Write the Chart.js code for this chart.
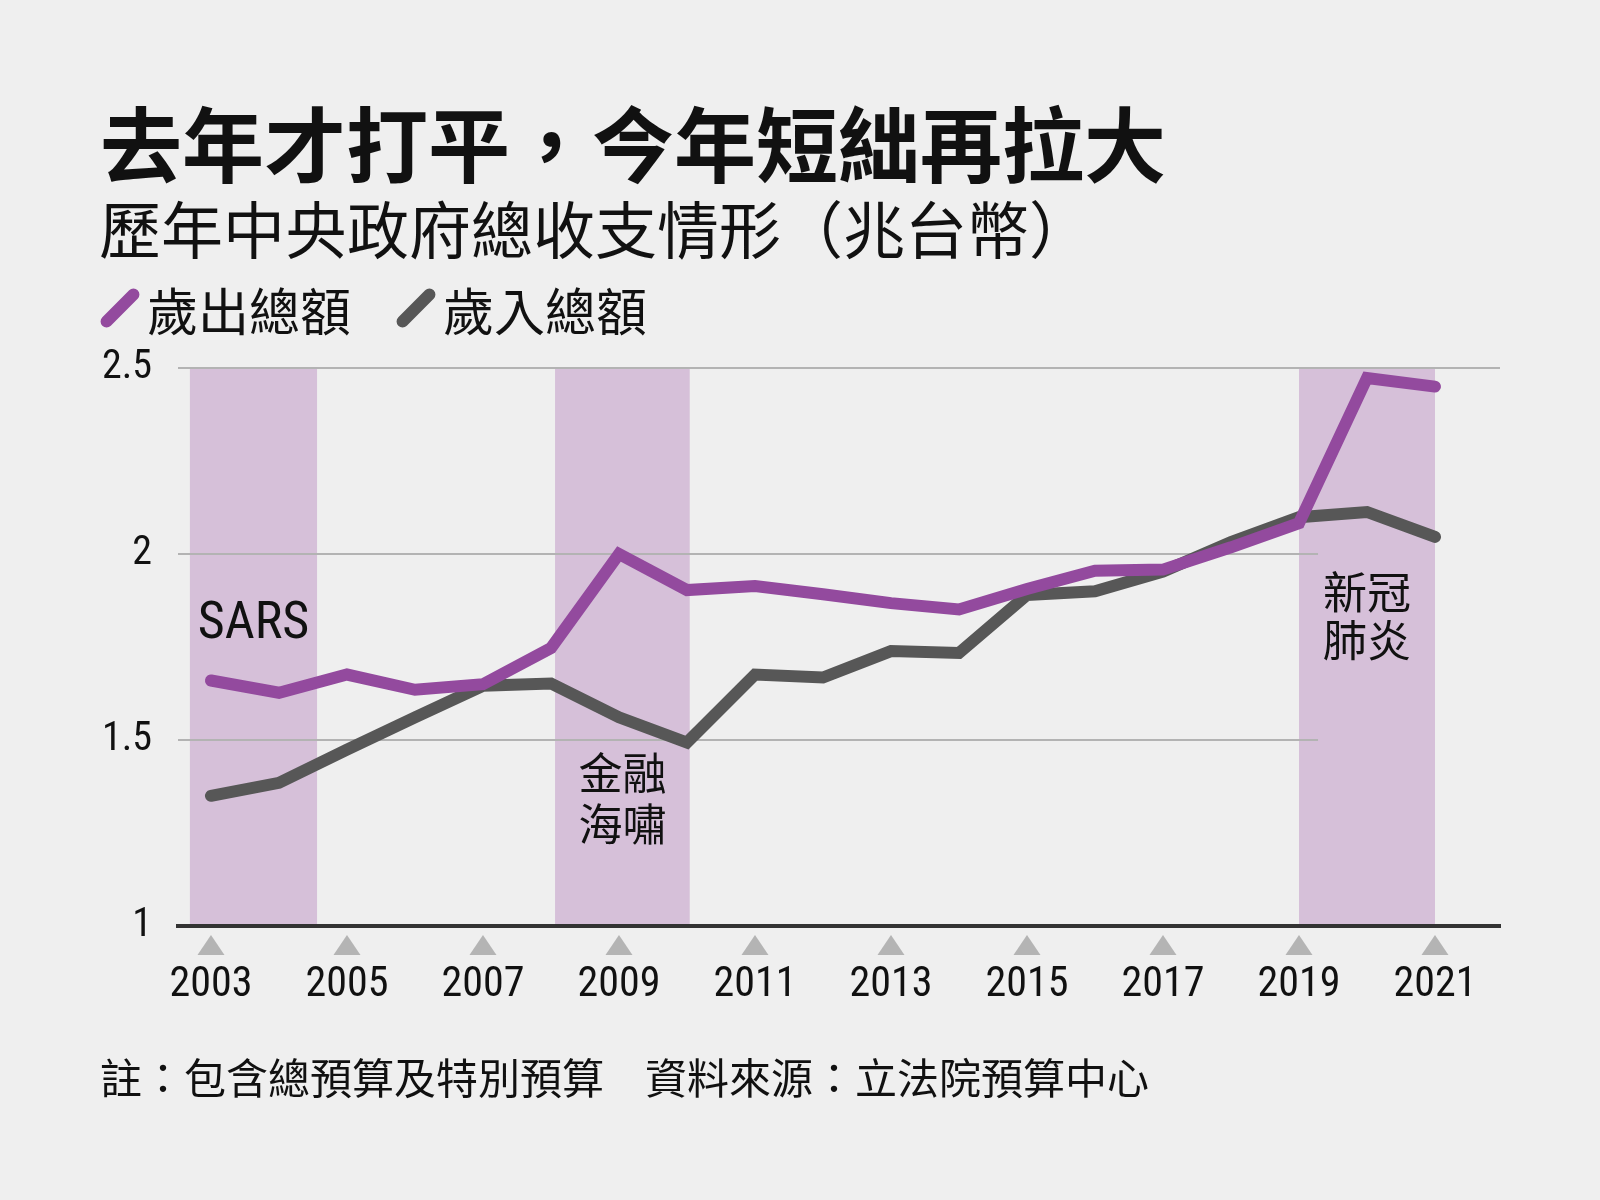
<!DOCTYPE html>
<html lang="zh-Hant">
<head>
<meta charset="utf-8">
<script src="https://cdn.jsdelivr.net/npm/chart.js@4"></script>
<style>
  html, body { margin: 0; padding: 0; background: #efefef; }
  #page { position: relative; width: 1600px; height: 1200px; background: #efefef; overflow: hidden;
          font-family: "Noto Sans CJK TC", "Noto Sans", sans-serif; color: #111; }
  #grafico { position: absolute; left: 0; top: 0; }
  .txt { position: absolute; white-space: nowrap; line-height: 1; }
  #titulo { left: 100px; top: 100px; font-size: 82px; font-weight: 700; }
  #subtitulo { left: 99px; top: 196px; font-size: 62px; font-weight: 400; }
  .chave { position: absolute; width: 50px; height: 12px; border-radius: 6px; transform: rotate(-45deg); }
  #legenda1 { left: 147px; top: 284px; font-size: 51px; }
  #legenda2 { left: 443px; top: 284px; font-size: 51px; }
  #nota1 { left: 100px; top: 1055px; font-size: 42px; }
  #nota2 { left: 645px; top: 1055px; font-size: 42px; }
</style>
</head>
<body>
<div id="page">
  <canvas id="grafico" width="1600" height="1200"></canvas>
  <div class="txt" id="titulo">去年才打平，今年短絀再拉大</div>
  <div class="txt" id="subtitulo">歷年中央政府總收支情形（兆台幣）</div>
  <span class="chave" style="left:95px;top:302px;background:#934a9e"></span>
  <div class="txt" id="legenda1">歲出總額</div>
  <span class="chave" style="left:391px;top:302px;background:#575757"></span>
  <div class="txt" id="legenda2">歲入總額</div>
  <div class="txt" id="nota1">註：包含總預算及特別預算</div>
  <div class="txt" id="nota2">資料來源：立法院預算中心</div>
</div>
<script>
// dados (兆台幣)
const anos = [2003, 2004, 2005, 2006, 2007, 2008, 2009, 2010, 2011, 2012,
              2013, 2014, 2015, 2016, 2017, 2018, 2019, 2020, 2021];
const despesas = [1.66, 1.627, 1.676, 1.635, 1.65, 1.747, 2.0, 1.903, 1.914, 1.892,
                  1.868, 1.851, 1.906, 1.955, 1.958, 2.018, 2.083, 2.473, 2.45];
const receitas = [1.35, 1.385, 1.474, 1.561, 1.646, 1.652, 1.561, 1.493, 1.676, 1.668,
                  1.739, 1.734, 1.89, 1.90, 1.953, 2.032, 2.099, 2.113, 2.046];
const anosMarcados = [2003, 2005, 2007, 2009, 2011, 2013, 2015, 2017, 2019, 2021];
const valoresY = [1, 1.5, 2, 2.5];

// períodos de crise sombreados
const crisesInicio = [2002.69, 2008.06, 2019];
const crisesFim = [2004.56, 2010.04, 2021];
const crisesNome = [['SARS'], ['金融', '海嘯'], ['新冠', '肺炎']];

const COR_ROXA = '#934a9e';
const COR_CINZA = '#575757';
const fonteNumeros = '"Liberation Sans Narrow", "Roboto Condensed", "DejaVu Sans Condensed", Roboto, sans-serif';

// faixas roxas atrás de tudo
const pluginFaixas = {
  id: 'faixas',
  beforeDraw(chart) {
    const { ctx, chartArea, scales } = chart;
    ctx.save();
    ctx.fillStyle = '#d6c0d9';
    crisesInicio.forEach((ini, i) => {
      const x0 = scales.x.getPixelForValue(ini);
      const x1 = scales.x.getPixelForValue(crisesFim[i]);
      ctx.fillRect(x0, chartArea.top, x1 - x0, chartArea.bottom - chartArea.top);
    });
    ctx.restore();
  }
};

// linhas de grade (as de 1.5 e 2 param dentro da faixa da covid)
const pluginGrade = {
  id: 'grade',
  beforeDatasetsDraw(chart) {
    const { ctx, chartArea, scales } = chart;
    ctx.save();
    ctx.strokeStyle = '#b3b3b3';
    ctx.lineWidth = 2;
    valoresY.forEach(v => {
      if (v === scales.y.min) return;
      const y = scales.y.getPixelForValue(v);
      const fim = v === scales.y.max ? chartArea.right : scales.x.getPixelForValue(2019.28);
      ctx.beginPath();
      ctx.moveTo(chartArea.left, y);
      ctx.lineTo(fim, y);
      ctx.stroke();
    });
    ctx.restore();
  }
};

// triângulos cinza embaixo do eixo e nomes das crises
const pluginMarcas = {
  id: 'marcas',
  afterDraw(chart) {
    const { ctx, chartArea, scales } = chart;
    ctx.save();
    ctx.fillStyle = '#b4b4b4';
    scales.x.ticks.forEach(t => {
      const x = scales.x.getPixelForValue(t.value);
      ctx.beginPath();
      ctx.moveTo(x, chartArea.bottom + 9);
      ctx.lineTo(x + 13.5, chartArea.bottom + 29);
      ctx.lineTo(x - 13.5, chartArea.bottom + 29);
      ctx.closePath();
      ctx.fill();
    });

    const alturas = [1.81, 1.411, 1.898];
    const fontes = ['52px ' + fonteNumeros, '44px "Noto Sans CJK TC"', '44px "Noto Sans CJK TC"'];
    const passo = [0, 51, 48];
    ctx.fillStyle = '#111';
    ctx.textAlign = 'center';
    ctx.textBaseline = 'middle';
    crisesNome.forEach((linhas, i) => {
      const xc = (scales.x.getPixelForValue(crisesInicio[i]) + scales.x.getPixelForValue(crisesFim[i])) / 2;
      const y0 = scales.y.getPixelForValue(alturas[i]);
      ctx.font = fontes[i];
      linhas.forEach((l, j) => ctx.fillText(l, xc, y0 + j * passo[i]));
    });
    ctx.restore();
  }
};

const ctx = document.getElementById('grafico').getContext('2d');

window.grafico = new Chart(ctx, {
  type: 'line',
  data: {
    datasets: [
      {
        label: '歲出總額',
        data: anos.map((a, i) => ({ x: a, y: despesas[i] })),
        borderColor: COR_ROXA,
        borderWidth: 12,
        borderCapStyle: 'round',
        borderJoinStyle: 'miter',
        pointRadius: 0,
        tension: 0,
        order: 0
      },
      {
        label: '歲入總額',
        data: anos.map((a, i) => ({ x: a, y: receitas[i] })),
        borderColor: COR_CINZA,
        borderWidth: 12,
        borderCapStyle: 'round',
        borderJoinStyle: 'miter',
        pointRadius: 0,
        tension: 0,
        order: 1
      }
    ]
  },
  options: {
    responsive: false,
    animation: false,
    layout: { padding: { left: 98, right: 100, top: 368, bottom: 164 } },
    plugins: {
      legend: { display: false },
      tooltip: { enabled: false }
    },
    scales: {
      x: {
        type: 'linear',
        min: 2002.515,
        max: 2021.956,
        afterBuildTicks: s => { s.ticks = anosMarcados.map(v => ({ value: v })); },
        afterFit: s => { s.height = 110; },
        ticks: {
          callback: v => String(v),
          autoSkip: false,
          maxRotation: 0,
          padding: 34,
          color: '#111',
          font: { family: fonteNumeros, size: 42 }
        },
        grid: { display: false, drawTicks: false },
        border: { display: true, color: '#333', width: 4 }
      },
      y: {
        min: 1,
        max: 2.5,
        afterBuildTicks: s => { s.ticks = valoresY.map(v => ({ value: v })); },
        afterFit: s => { s.width = 80; },
        ticks: {
          callback: v => String(v),
          padding: 26,
          color: '#111',
          font: { family: fonteNumeros, size: 40 }
        },
        grid: { display: false, drawTicks: false },
        border: { display: false }
      }
    }
  },
  plugins: [pluginFaixas, pluginGrade, pluginMarcas]
});
</script>
</body>
</html>
